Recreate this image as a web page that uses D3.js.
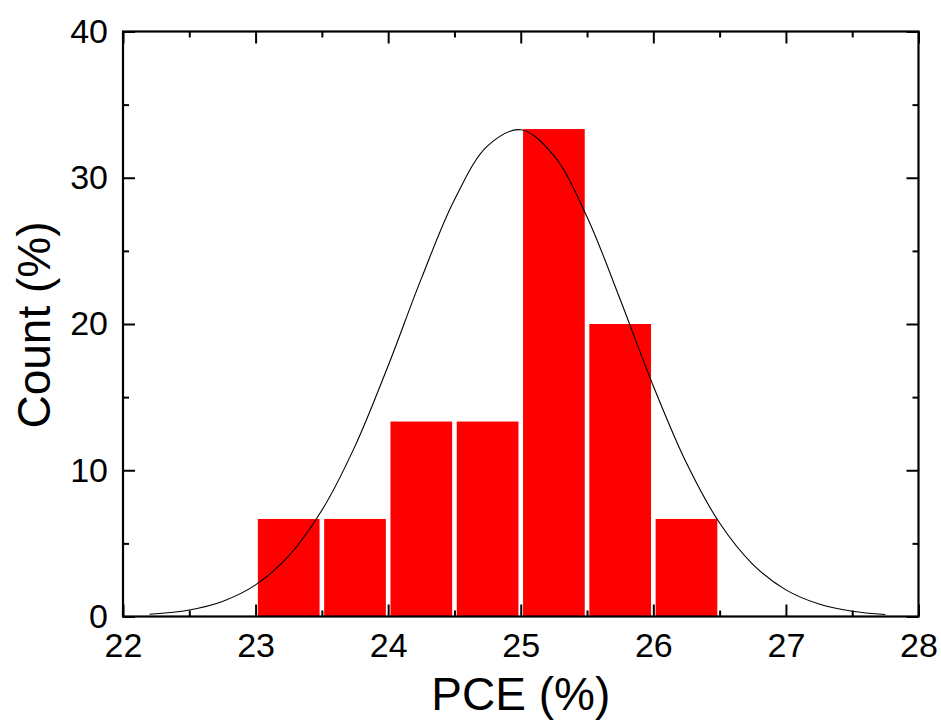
<!DOCTYPE html>
<html>
<head>
<meta charset="utf-8">
<script src="https://cdn.jsdelivr.net/npm/d3@7"></script>
<style>
  body { margin: 0; background: #fff; }
  svg { display: block; font-family: "Liberation Sans", Arial, sans-serif; }
</style>
</head>
<body>
<svg id="chart" width="941" height="720"></svg>
<script>
// Histogram bins (PCE %) and percentages
const binStarts = [23.0, 23.5, 24.0, 24.5, 25.0, 25.5, 26.0];
const binWidth = 0.5;
const counts = [6.67, 6.67, 13.33, 13.33, 33.33, 20.0, 6.67];

// Normal fit curve
const fitX = [22.2, 22.5, 22.75, 23.0, 23.25, 23.5, 23.75, 24.0, 24.25, 24.5, 24.75, 25.0,
              25.25, 25.5, 25.75, 26.0, 26.25, 26.5, 26.75, 27.0, 27.25, 27.5, 27.75];
const fitY = [0.15, 0.45, 1.03, 2.16, 4.14, 7.26, 11.65, 17.15, 23.10, 28.50, 32.18, 33.28,
              31.51, 27.32, 21.68, 15.76, 10.49, 6.39, 3.57, 1.82, 0.85, 0.36, 0.14];

const xTicks = [22, 23, 24, 25, 26, 27, 28];
const xMinor = [22.5, 23.5, 24.5, 25.5, 26.5, 27.5];
const yTicks = [0, 10, 20, 30, 40];
const yMinor = [5, 15, 25, 35];

(function () {
const L = 123, R = 918.5, T = 31.5, B = 616.5;
const svg = d3.select("#chart");
const x = d3.scaleLinear().domain([22, 28]).range([L, R]);
const y = d3.scaleLinear().domain([0, 40]).range([B, T]);

// bars
svg.append("g").selectAll("rect")
  .data(binStarts.map((s, i) => ({ s, v: counts[i] })))
  .join("rect")
  .attr("x", d => x(d.s) + 2.3)
  .attr("width", d => x(d.s + binWidth) - x(d.s) - 4.6)
  .attr("y", d => y(d.v))
  .attr("height", d => B - y(d.v))
  .attr("fill", "#ff0000");

// fit curve
const line = d3.line().x(d => x(d[0])).y(d => y(d[1])).curve(d3.curveCatmullRom);
svg.append("path")
  .datum(fitX.map((v, i) => [v, fitY[i]]))
  .attr("d", line)
  .attr("fill", "none")
  .attr("stroke", "#000")
  .attr("stroke-width", 1.1);

// axes (ticks inward)
const major = 12, minor = 6;
const axB = d3.axisBottom(x).tickValues(xTicks).tickSize(-major).tickPadding(16.5).tickFormat(d3.format("d"));
const axBm = d3.axisBottom(x).tickValues(xMinor).tickSize(-minor).tickFormat("");
const axT = d3.axisTop(x).tickValues(xTicks).tickSize(-major).tickFormat("");
const axTm = d3.axisTop(x).tickValues(xMinor).tickSize(-minor).tickFormat("");
const axL = d3.axisLeft(y).tickValues(yTicks).tickSize(-major).tickPadding(15).tickFormat(d3.format("d"));
const axLm = d3.axisLeft(y).tickValues(yMinor).tickSize(-minor).tickFormat("");
const axR = d3.axisRight(y).tickValues(yTicks).tickSize(-major).tickFormat("");
const axRm = d3.axisRight(y).tickValues(yMinor).tickSize(-minor).tickFormat("");

function style(g) {
  g.select(".domain").remove();
  g.selectAll(".tick line").attr("stroke", "#000").attr("stroke-width", 2);
  g.selectAll(".tick text").attr("fill", "#000").style("font-size", "34px")
    .style("font-family", "'Liberation Sans', Arial, sans-serif");
}
svg.append("g").attr("transform", `translate(0,${B})`).call(axB).call(style);
svg.append("g").attr("transform", `translate(0,${B})`).call(axBm).call(style);
svg.append("g").attr("transform", `translate(0,${T})`).call(axT).call(style);
svg.append("g").attr("transform", `translate(0,${T})`).call(axTm).call(style);
svg.append("g").attr("transform", `translate(${L},0)`).call(axL).call(style);
svg.append("g").attr("transform", `translate(${L},0)`).call(axLm).call(style);
svg.append("g").attr("transform", `translate(${R},0)`).call(axR).call(style);
svg.append("g").attr("transform", `translate(${R},0)`).call(axRm).call(style);

// frame
svg.append("rect").attr("x", L).attr("y", T).attr("width", R - L).attr("height", B - T)
  .attr("fill", "none").attr("stroke", "#000").attr("stroke-width", 2.2);

// titles
svg.append("text").attr("x", (L + R) / 2).attr("y", 710).attr("text-anchor", "middle")
  .style("font-size", "46px").attr("fill", "#000").text("PCE (%)");
svg.append("text").attr("transform", `translate(50,${(T + B) / 2 + 1}) rotate(-90)`).attr("text-anchor", "middle")
  .style("font-size", "46px").attr("fill", "#000").text("Count (%)");
})();
</script>
</body>
</html>
